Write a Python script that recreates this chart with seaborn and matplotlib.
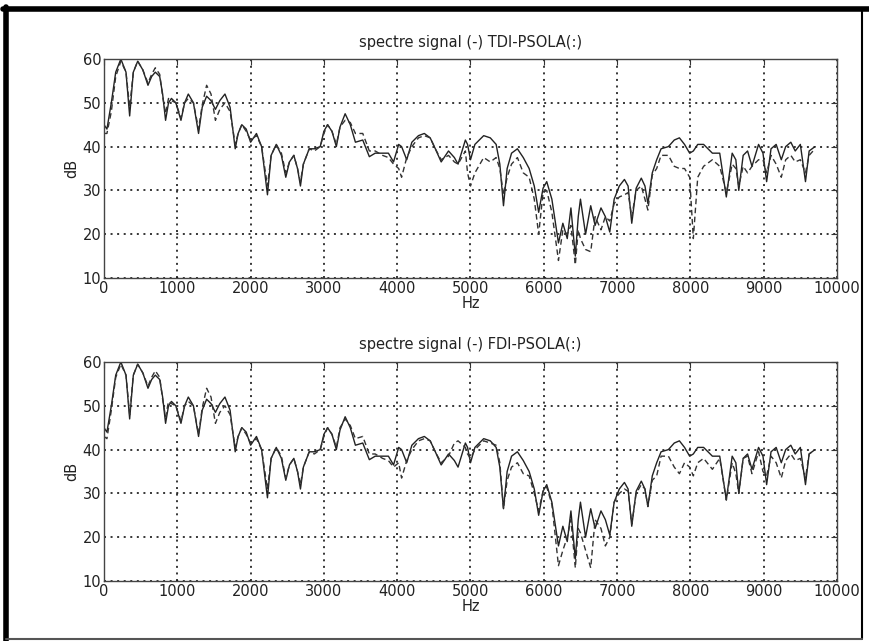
import numpy as np
import pandas as pd
import seaborn as sns
import matplotlib.pyplot as plt
from matplotlib.lines import Line2D

# Frequencies (Hz) of the points
freq = [0, 40, 100, 160, 230, 300, 350, 400, 460, 530, 600, 650, 700, 760, 800,
        840, 880, 920, 980, 1050, 1100, 1150, 1220, 1290, 1340, 1400, 1460, 1520,
        1580, 1650, 1720, 1790, 1830, 1880, 1940, 2000, 2080, 2150, 2230, 2280,
        2350, 2420, 2480, 2530, 2590, 2640, 2680, 2720, 2800, 2870, 2950, 3000,
        3050, 3110, 3170, 3220, 3290, 3360, 3430, 3530, 3620, 3700, 3800, 3880,
        3950, 4020, 4060, 4130, 4200, 4290, 4370, 4450, 4520, 4600, 4700, 4780,
        4830, 4930, 4960, 5000, 5060, 5180, 5270, 5350, 5400, 5450, 5500, 5560,
        5640, 5720, 5800, 5870, 5930, 5990, 6040, 6110, 6200, 6260, 6320, 6370,
        6430, 6470, 6500, 6570, 6640, 6700, 6780, 6840, 6900, 6960, 7030, 7100,
        7150, 7200, 7260, 7330, 7380, 7420, 7480, 7540, 7600, 7700, 7780, 7850,
        7920, 7990, 8040, 8100, 8180, 8300, 8400, 8490, 8570, 8620, 8660, 8720,
        8780, 8840, 8930, 8990, 9040, 9100, 9170, 9240, 9300, 9370, 9430, 9500,
        9570, 9620, 9700]

# original signal spectrum (solid, same in both panels)
signal_db = [45, 44, 50, 57, 60, 57, 47, 57, 59.5, 57.5, 54, 56, 57, 56, 52,
             46, 50, 51, 50, 46, 50, 52, 50, 43, 49, 51.5, 50.5, 48.5,
             50.5, 52, 49, 39.5, 43, 45, 44, 41, 43, 40, 29, 38,
             40.5, 38, 33, 36.5, 38, 35, 31, 36, 39.5, 39.5, 40, 43.5,
             45, 43.5, 40, 44.5, 47.5, 45, 41, 41.5, 37.7, 38.5, 38.5, 38.5,
             36.5, 40.5, 40, 37, 41, 42.5, 43, 42, 39.5, 36.5, 39, 37.5,
             36, 41.5, 40.5, 37, 40.5, 42.5, 42, 40.5, 36, 26.5, 35, 38.5,
             39.5, 37.5, 35, 31, 25, 30.5, 32, 28, 18, 22.5, 19, 26,
             15, 24, 28, 20, 26.5, 22, 26, 24, 20.5, 28, 31, 32.5,
             31, 22.5, 30.5, 32.8, 31, 27, 34, 37, 39.5, 40, 41.5, 42,
             40.5, 38.5, 39, 40.5, 40.5, 38.5, 38.5, 28.5, 38.5, 37, 30, 38,
             39, 35.5, 40.5, 38.5, 32, 39.5, 40.5, 37, 40, 41, 39, 40.5,
             32, 39, 40]

# TDI-PSOLA spectrum (dashed, top panel)
tdi_db = [43, 43, 48, 56, 59.5, 57, 49, 57, 59.5, 57.5, 54.5, 56.5, 58, 56.5, 51.5,
          47.5, 51, 50.5, 50, 46.5, 50, 51, 50, 44, 49.5, 54, 52, 46,
          48.5, 50, 48, 40.5, 43, 45, 43.5, 41.5, 42.5, 40, 31, 38,
          40.5, 38.5, 34, 36.5, 38, 35, 32, 36, 39.5, 39, 40, 43,
          45, 43.5, 40.5, 44.5, 46, 45.5, 43, 43, 39, 39, 38, 37.5,
          36, 35, 33, 37.5, 40, 42, 42.5, 42, 39.5, 37, 38, 36.5,
          36, 39, 34, 31, 34, 37.5, 36.5, 37.5, 35, 29, 33, 36,
          37.5, 34, 33, 28, 20, 29.5, 30, 25, 14, 21, 20, 22,
          13, 21, 19, 16.5, 16, 24, 21, 24, 23, 27, 28.5, 29,
          29.5, 24, 30, 31, 28, 25.5, 33.5, 35, 38, 38, 35.5, 35,
          35, 33, 19, 33, 35.5, 37, 35.5, 29.5, 36, 35, 31, 35.5,
          34, 35.5, 37, 37, 34, 38, 36, 33, 37, 38, 36.5, 37,
          34, 38, 39.5]

# FDI-PSOLA spectrum (dashed, bottom panel)
fdi_db = [43, 42.5, 49, 56.5, 59.5, 57, 48, 57, 59.5, 57.5, 54.5, 56.5, 58, 56.5, 51.5,
          47.5, 51, 50.5, 50, 46.5, 50, 51, 50, 43.5, 49.5, 54, 52, 46,
          48.5, 50, 48, 40.5, 43, 45, 43.5, 41.5, 42.5, 40, 31, 38,
          40.5, 38.5, 33.5, 36.5, 38, 35, 32, 36, 39.5, 39, 40, 43,
          45, 43.5, 40.5, 45, 47, 45.5, 42.5, 43, 39, 39, 38, 37.5,
          36, 37, 33.5, 37.5, 40, 42, 42.5, 42, 39.5, 37, 38.5, 41.5,
          42, 40.5, 39, 38, 40, 42, 41.5, 41, 37, 26.5, 33, 36,
          37, 34.5, 34, 30, 26, 30.5, 31.5, 27.5, 13.5, 17, 20, 24,
          13, 22, 21, 17, 13, 24, 22, 18, 20, 28, 30, 31,
          30.5, 23, 30, 32, 31, 27, 33, 34, 38.5, 38.5, 36, 34.5,
          37, 36, 34, 37, 38, 35.5, 38, 28.5, 37, 34.5, 30, 38,
          38.5, 34.5, 39.5, 35, 34, 38.5, 37, 33.5, 37.5, 39, 37.5, 38,
          33.5, 39, 40]

titles = ["spectre signal (-) TDI-PSOLA(:)", "spectre signal (-) FDI-PSOLA(:)"]
xticks = list(range(0, 10001, 1000))
yticks = [10, 20, 30, 40, 50, 60]

sns.set_style("white")
plt.rcParams["font.family"] = ["DejaVu Sans"]
plt.rcParams["xtick.direction"] = "in"
plt.rcParams["ytick.direction"] = "in"

fig = plt.figure(figsize=(8.7, 6.41), dpi=100)
W, H = 870, 641
ax_top = fig.add_axes([104 / W, 1 - 278 / H, 733 / W, 219 / H])
ax_bot = fig.add_axes([104 / W, 1 - 581 / H, 733 / W, 219 / H])

fs = 10.5
for ax, other, title in [(ax_top, tdi_db, titles[0]), (ax_bot, fdi_db, titles[1])]:
    df = pd.DataFrame({"Hz": freq, "signal": signal_db, "psola": other})
    sns.lineplot(data=df, x="Hz", y="signal", ax=ax, color="#222222",
                 linewidth=1.0, sort=False)
    sns.lineplot(data=df, x="Hz", y="psola", ax=ax, color="#333333",
                 linewidth=1.0, linestyle=(0, (4, 2.5)), sort=False)
    ax.set_xlim(0, 10000)
    ax.set_ylim(10, 60)
    ax.set_xticks(xticks)
    ax.set_yticks(yticks)
    ax.tick_params(labelsize=fs, length=4, width=0.8, color="#333333",
                   top=True, right=True, pad=2, labelcolor="#222222")
    ax.grid(True, color="black", linestyle=(0, (1.3, 3)), linewidth=1.1)
    for s in ax.spines.values():
        s.set_color("#444444")
        s.set_linewidth(1.0)
    ax.set_title(title, fontsize=fs, pad=9, color="#222222")
    ax.set_xlabel("Hz", fontsize=fs, labelpad=0, color="#222222")
    ax.set_ylabel("dB", fontsize=fs, labelpad=2, color="#222222")

# scanned page frame
fig.add_artist(Line2D([3 / W, 1], [1 - 8.5 / H, 1 - 8.5 / H], color="black", linewidth=4))
fig.add_artist(Line2D([6 / W, 6 / W], [0, 1 - 7 / H], color="black", linewidth=4))
fig.add_artist(Line2D([862 / W, 862 / W], [2 / H, 1 - 8 / H], color="black", linewidth=1.5))
fig.add_artist(Line2D([6 / W, 862 / W], [2.5 / H, 2.5 / H], color="#555555", linewidth=1.5))

fig.savefig("out.png", dpi=100)
